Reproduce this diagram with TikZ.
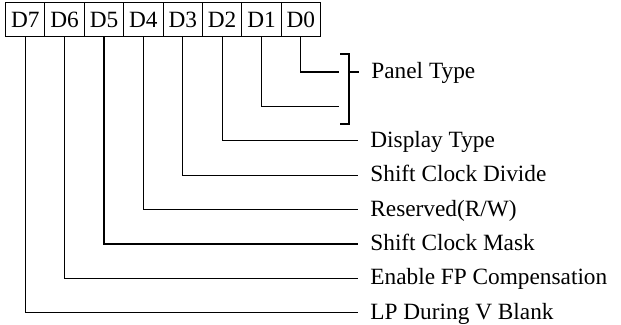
\documentclass[tikz,border=0pt]{standalone}
\usepackage{fontspec}
\setmainfont{Liberation Serif}
\usetikzlibrary{positioning,calc}

\begin{document}
\begin{tikzpicture}[x=0.5pt,y=-0.5pt,
  font=\fontsize{11.65}{14}\selectfont,
  bit/.style={draw,minimum width=19.69pt,minimum height=17pt,inner sep=0pt,anchor=north west,line width=0.55pt},
  lbl/.style={anchor=west,inner xsep=6pt,inner ysep=0pt,text height=0.66em,text depth=0pt},
  wire/.style={line width=0.55pt}]
\useasboundingbox (0,0) rectangle (621,325);
% register bits
\foreach \n [count=\i from 0] in {7,6,5,4,3,2,1,0}
  \node[bit] (d\n) at ({5+39.375*\i},2) {D\n};
% panel type (D1,D0)
\node[lbl] (panel) at (359,72) {Panel Type};
\coordinate (e0) at (339,72);
\coordinate (e1) at (339,106.4);
\draw[wire] (d0.south) |- (e0);
\draw[wire] (d1.south) |- (e1);
\draw[wire] (340,54) -- (349,54) -- (349,124) -- (340,124);
\draw[wire] (349,72) -- (panel.west);
% single bit fields
\foreach \t [count=\k from 2] in {Display Type,Shift Clock Divide,{Reserved(R/W)},Shift Clock Mask,Enable FP Compensation,LP During V Blank}
  \node[lbl] (l\k) at (358,{72+34.4*\k}) {\t};
\foreach \k in {2,...,7} \draw[wire] (d\k.south) |- (l\k.west);
\end{tikzpicture}
\end{document}
